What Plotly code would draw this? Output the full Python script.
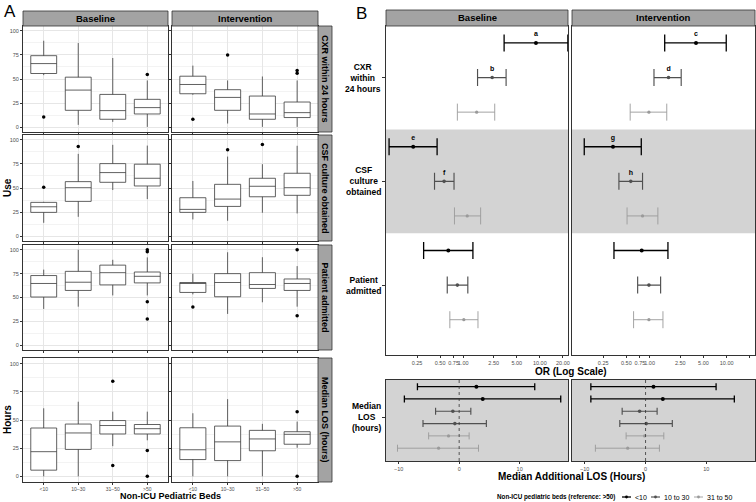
import math
import plotly.graph_objects as go

W, H = 756, 502
FONT = "Liberation Sans, Arial, sans-serif"

# ---------------- Panel A data (box statistics) ----------------
cats = ["<10", "10–30", "31–50", ">50"]
periods = ["Baseline", "Intervention"]
outcomes_a = ["CXR within 24 hours", "CSF culture obtained", "Patient admitted", "Median LOS (hours)"]

cxr_base = dict(q1=[55.7, 17.5, 8.2, 13.7], med=[66, 38.5, 17.2, 20.3], q3=[74.2, 51.9, 34, 28.9],
                lo=[54, 2.4, 5.5, 0.3], hi=[89.7, 87.3, 71.8, 48.5])
cxr_base_out_x = ["<10", ">50"]
cxr_base_out_y = [10.6, 54.6]

cxr_int = dict(q1=[34.7, 17.5, 8.2, 10], med=[44.3, 30.9, 13.7, 15.1], q3=[52.9, 38.9, 32.3, 26.1],
               lo=[33.7, 3.8, 0.3, 0.3], hi=[63.9, 48.5, 52.6, 48.5])
cxr_int_out_x = ["<10", "10–30", ">50", ">50"]
cxr_int_out_y = [8.2, 74.9, 58.8, 56]

csf_base = dict(q1=[24.7, 36.1, 55.9, 52.1], med=[30.5, 50.3, 66, 60.1], q3=[35.1, 56.6, 75.3, 74.7],
                lo=[13.9, 20.1, 47.9, 38.5], hi=[35.6, 85.4, 94.8, 94])
csf_base_out_x = ["<10", "10–30"]
csf_base_out_y = [50.7, 93]

csf_int = dict(q1=[24.7, 30.9, 40.9, 42.4], med=[27.8, 38.5, 51.8, 50.3], q3=[39.9, 53.8, 60.1, 65.3],
               lo=[17.4, 16, 24.3, 23.6], hi=[57.3, 82.6, 74.7, 93.8])
csf_int_out_x = ["10–30", "31–50"]
csf_int_out_y = [89.6, 95.1]

adm_base = dict(q1=[50.5, 57.4, 63.2, 65.3], med=[64.7, 66, 76, 72.2], q3=[73, 77.4, 83.9, 76.7],
                lo=[38, 40.4, 52.2, 52.2], hi=[79.2, 100, 89.5, 92])
adm_base_out_x = [">50", ">50", ">50", ">50"]
adm_base_out_y = [98, 100, 45.6, 27.4]

adm_int = dict(q1=[55.3, 50.8, 59.5, 57.4], med=[64.7, 65.7, 63.6, 64.7], q3=[65.7, 75, 76, 69.4],
               lo=[53.3, 32.8, 45, 40.4], hi=[75, 97.4, 92.2, 82.9])
adm_int_out_x = ["<10", ">50", ">50"]
adm_int_out_y = [40.1, 30.8, 100]

los_base = dict(q1=[5.5, 23.9, 37.6, 37.6], med=[21.9, 38.5, 45.1, 42.3], q3=[42.9, 46.4, 49.5, 46],
                lo=[0, 0, 26.8, 32], hi=[60.4, 66.2, 57.4, 57.4])
los_base_out_x = ["31–50", "31–50", ">50", ">50"]
los_base_out_y = [84.3, 9.6, 23, 0]

los_int = dict(q1=[14.9, 14, 22.7, 28.5], med=[23.6, 30.6, 33.2, 37.3], q3=[43.1, 44.6, 40.8, 39.6],
               lo=[0, 0, 0, 25.4], hi=[56, 68.5, 46.6, 48.6])
los_int_out_x = [">50", ">50"]
los_int_out_y = [57.4, 0]

# ---------------- Panel B data ----------------
levels = ["<10", "10 to 30", "31 to 50"]
or_outcomes = ["CXR<br>within<br>24 hours", "CSF<br>culture<br>obtained", "Patient<br>admitted"]
# order: outcome x level (CXR <10, CXR 10-30, CXR 31-50, CSF ..., Admitted ...)
or_base = [8.9, 2.39, 1.50, 0.223, 0.564, 1.13, 0.64, 0.84, 1.02]
or_base_lo = [3.42, 1.54, 0.84, 0.108, 0.423, 0.77, 0.305, 0.62, 0.67]
or_base_hi = [23.2, 3.63, 2.58, 0.457, 0.76, 1.69, 1.34, 1.15, 1.56]
or_base_letters = ["a", "b", "", "e", "f", "", "", "", ""]

or_int = [4.0, 1.76, 0.98, 0.335, 0.57, 0.81, 0.79, 0.98, 0.98]
or_int_lo = [1.57, 1.14, 0.56, 0.142, 0.40, 0.51, 0.345, 0.70, 0.62]
or_int_hi = [9.87, 2.57, 1.67, 0.78, 0.81, 1.28, 1.73, 1.39, 1.49]
or_int_letters = ["c", "d", "", "g", "h", "", "", "", ""]

or_ticks = [0.25, 0.50, 0.75, 1.00, 2.50, 5.00, 10.00, 20.00]

los_levels = ["<10", "<10", "10 to 30", "10 to 30", "31 to 50", "31 to 50"]
los_add_base = [2.85, 3.9, -1.04, -0.71, -1.76, -3.4]
los_add_base_lo = [-6.9, -9.06, -3.9, -5.98, -5.05, -10.2]
los_add_base_hi = [12.5, 16.8, 1.93, 4.5, 1.65, 3.2]
los_add_int = [1.3, 2.84, -0.98, 0.11, -0.16, -2.94]
los_add_int_lo = [-9.0, -9.0, -3.85, -4.24, -3.2, -8.25]
los_add_int_hi = [11.6, 14.6, 1.9, 4.4, 3.0, 2.28]

legend_title = "Non-ICU pediatric beds (reference: >50)"

# ---------------- styles ----------------
lvl_color = {"<10": "#000000", "10 to 30": "#505050", "31 to 50": "#9a9a9a"}
lvl_width = {"<10": 1.3, "10 to 30": 1.15, "31 to 50": 0.9}
lvl_msize = {"<10": 4, "10 to 30": 3.6, "31 to 50": 3.2}
STRIP_FILL = "#a3a3a3"
BORDER = "#333333"


def dx(l, r):
    return [l / W, r / W]


def dy(t, b):
    return [1 - b / H, 1 - t / H]


def px(x):
    return x / W


def py(y):
    return 1 - y / H


def anno(x, y, text, size, **kw):
    d = dict(xref="paper", yref="paper", x=px(x), y=py(y), text=text, showarrow=False,
             xanchor="center", yanchor="middle", font=dict(size=size, color="black", family=FONT))
    d.update(kw)
    return d


fig = go.Figure()
layout = {}
shapes = []
annos = []

row_px = [(26, 132), (135, 241), (245, 350), (358, 482)]
col_px = [(23, 168), (172, 318)]

panels = [
    [(cxr_base, cxr_base_out_x, cxr_base_out_y), (cxr_int, cxr_int_out_x, cxr_int_out_y)],
    [(csf_base, csf_base_out_x, csf_base_out_y), (csf_int, csf_int_out_x, csf_int_out_y)],
    [(adm_base, adm_base_out_x, adm_base_out_y), (adm_int, adm_int_out_x, adm_int_out_y)],
    [(los_base, los_base_out_x, los_base_out_y), (los_int, los_int_out_x, los_int_out_y)],
]


def ax_name(k, axis):
    return f"{axis}axis" if k == 1 else f"{axis}axis{k}"


def ref(k, axis):
    return axis if k == 1 else f"{axis}{k}"


for r in range(4):
    for c in range(2):
        k = r * 2 + c + 1
        stats, ox, oy = panels[r][c]
        fig.add_trace(go.Box(
            x=cats, q1=stats["q1"], median=stats["med"], q3=stats["q3"],
            lowerfence=stats["lo"], upperfence=stats["hi"],
            xaxis=ref(k, "x"), yaxis=ref(k, "y"),
            fillcolor="white", line=dict(color="#3a3a3a", width=0.8),
            boxpoints=False, width=0.75, whiskerwidth=0, showlegend=False, hoverinfo="skip"))
        fig.add_trace(go.Scatter(
            x=ox, y=oy, mode="markers", xaxis=ref(k, "x"), yaxis=ref(k, "y"),
            marker=dict(color="black", size=3.5), showlegend=False, hoverinfo="skip"))
        layout[ax_name(k, "x")] = dict(
            domain=dx(*col_px[c]), anchor=ref(k, "y"), type="category",
            categoryorder="array", categoryarray=cats, range=[-0.6, 3.6],
            showgrid=True, gridcolor="#e6e6e6", gridwidth=0.8,
            showline=True, mirror=True, linecolor=BORDER, linewidth=1,
            ticks="outside", ticklen=1.5, tickcolor="#333", tickwidth=0.6,
            showticklabels=(r == 3), tickfont=dict(size=5, color="#4d4d4d"), tickangle=0,
            zeroline=False, fixedrange=True)
        layout[ax_name(k, "y")] = dict(
            domain=dy(*row_px[r]), anchor=ref(k, "x"), range=[-5, 105],
            tickvals=[0, 25, 50, 75, 100], showgrid=True, gridcolor="#e6e6e6", gridwidth=0.8,
            minor=dict(dtick=12.5, tick0=0, showgrid=True, gridcolor="#f3f3f3", gridwidth=0.5),
            showline=True, mirror=True, linecolor=BORDER, linewidth=1,
            ticks="outside", ticklen=2, tickcolor="#333", tickwidth=0.6,
            showticklabels=(c == 0), tickfont=dict(size=5.5, color="#4d4d4d"),
            zeroline=False, fixedrange=True)
    # right strip
    t, b = row_px[r]
    shapes.append(dict(type="rect", xref="paper", yref="paper", x0=px(318), x1=px(332),
                       y0=py(b), y1=py(t), fillcolor=STRIP_FILL,
                       line=dict(color=BORDER, width=0.8)))
    annos.append(anno(325, (t + b) / 2, f"<b>{outcomes_a[r]}</b>", 9, textangle=90))

# top strips for A
for c in range(2):
    l, rr = col_px[c]
    shapes.append(dict(type="rect", xref="paper", yref="paper", x0=px(l), x1=px(rr),
                       y0=py(26), y1=py(11), fillcolor=STRIP_FILL,
                       line=dict(color=BORDER, width=0.8)))
    annos.append(anno((l + rr) / 2, 18.5, f"<b>{periods[c]}</b>", 9.5))

# ---------------- Panel B ----------------
bcol_px = [(386, 568), (572, 755)]
or_sets = [(or_base, or_base_lo, or_base_hi, or_base_letters),
           (or_int, or_int_lo, or_int_hi, or_int_letters)]
los_sets = [(los_add_base, los_add_base_lo, los_add_base_hi),
            (los_add_int, los_add_int_lo, los_add_int_hi)]

for c in range(2):
    k = 9 + c
    vals, lo, hi, letters = or_sets[c]
    for j, lvl in enumerate(levels):
        idx = list(range(j, len(vals), 3))
        fig.add_trace(go.Scatter(
            x=[vals[i] for i in idx], y=idx, mode="markers", xaxis=ref(k, "x"), yaxis=ref(k, "y"),
            marker=dict(color=lvl_color[lvl], size=lvl_msize[lvl]),
            error_x=dict(type="data", symmetric=False,
                         array=[hi[i] - vals[i] for i in idx],
                         arrayminus=[vals[i] - lo[i] for i in idx],
                         color=lvl_color[lvl], thickness=lvl_width[lvl], width=8.5),
            showlegend=False, hoverinfo="skip"))
    # significance letters, offset above the points by an invisible marker
    fig.add_trace(go.Scatter(
        x=vals, y=list(range(len(vals))), mode="markers+text", xaxis=ref(k, "x"), yaxis=ref(k, "y"),
        marker=dict(size=6, opacity=0, color="black"),
        text=[f"<b>{t}</b>" if t else "" for t in letters], textposition="top center",
        textfont=dict(size=7, color="#000000", family=FONT), showlegend=False, hoverinfo="skip"))
    layout[ax_name(k, "x")] = dict(
        domain=dx(*bcol_px[c]), anchor=ref(k, "y"), type="log",
        range=[math.log10(0.0985), math.log10(23.3)],
        tickvals=or_ticks, ticktext=[f"{v:.2f}" for v in or_ticks], tickangle=0,
        showgrid=False, zeroline=False, showline=True, mirror=True,
        linecolor=BORDER, linewidth=1, ticks="outside", ticklen=2, tickcolor="#333", tickwidth=0.6,
        tickfont=dict(size=5.5, color="#4d4d4d"), fixedrange=True)
    layout[ax_name(k, "y")] = dict(
        domain=dy(26, 355), anchor=ref(k, "x"), range=[9.02, -0.49],
        tickvals=[1, 4, 7], showticklabels=False, ticks="outside" if c == 0 else "",
        ticklen=3, tickcolor="#333", tickwidth=0.6,
        showgrid=False, zeroline=False, showline=True, mirror=True,
        linecolor=BORDER, linewidth=1, fixedrange=True)
    shapes.append(dict(type="rect", xref=f"x{k} domain", yref=f"y{k}", x0=0, x1=1, y0=2.5, y1=5.5,
                       fillcolor="#d3d3d3", line=dict(width=0), layer="below"))
    shapes.append(dict(type="line", xref=f"x{k}", yref=f"y{k} domain", x0=0, x1=0, y0=0, y1=1,
                       line=dict(color="#333", width=0.8, dash="dot")))
    l, rr = bcol_px[c]
    shapes.append(dict(type="rect", xref="paper", yref="paper", x0=px(l), x1=px(rr),
                       y0=py(26), y1=py(10), fillcolor=STRIP_FILL,
                       line=dict(color=BORDER, width=0.8)))
    annos.append(anno((l + rr) / 2, 18, f"<b>{periods[c]}</b>", 9.5))

    # LOS panel
    k2 = 11 + c
    vals, lo, hi = los_sets[c]
    for lvl in levels:
        idx = [i for i, v in enumerate(los_levels) if v == lvl]
        fig.add_trace(go.Scatter(
            x=[vals[i] for i in idx], y=idx, mode="markers", xaxis=ref(k2, "x"), yaxis=ref(k2, "y"),
            marker=dict(color=lvl_color[lvl], size=lvl_msize[lvl]),
            error_x=dict(type="data", symmetric=False,
                         array=[hi[i] - vals[i] for i in idx],
                         arrayminus=[vals[i] - lo[i] for i in idx],
                         color=lvl_color[lvl], thickness=lvl_width[lvl], width=3.5),
            showlegend=False, hoverinfo="skip"))
    layout[ax_name(k2, "x")] = dict(
        domain=dx(*bcol_px[c]), anchor=ref(k2, "y"), range=[-12.1, 18],
        tickvals=[-10, 0, 10], tickangle=0, showgrid=False, zeroline=False, showline=True, mirror=True,
        linecolor=BORDER, linewidth=1, ticks="outside", ticklen=2, tickcolor="#333", tickwidth=0.6,
        tickfont=dict(size=5.5, color="#4d4d4d"), fixedrange=True)
    layout[ax_name(k2, "y")] = dict(
        domain=dy(380, 461), anchor=ref(k2, "x"), range=[6.04, -0.54],
        tickvals=[2.5], showticklabels=False, ticks="outside" if c == 0 else "",
        ticklen=3, tickcolor="#333", tickwidth=0.6,
        showgrid=False, zeroline=False, showline=True, mirror=True,
        linecolor=BORDER, linewidth=1, fixedrange=True)
    shapes.append(dict(type="rect", xref=f"x{k2} domain", yref=f"y{k2} domain", x0=0, x1=1, y0=0, y1=1,
                       fillcolor="#d3d3d3", line=dict(width=0), layer="below"))
    shapes.append(dict(type="line", xref=f"x{k2}", yref=f"y{k2} domain", x0=0, x1=0, y0=0, y1=1,
                       line=dict(color="#333", width=0.8, dash="dot")))

# row labels for B
for i, lab in enumerate(or_outcomes):
    annos.append(dict(xref="paper", yref="y9", x=px(383), y=i * 3 + 1, xanchor="right", yanchor="middle",
                      text=f"<b>{lab}</b>", align="center", showarrow=False,
                      font=dict(size=8.5, color="black", family=FONT)))
annos.append(dict(xref="paper", yref="y11", x=px(383), y=2.5, xanchor="right", yanchor="middle",
                  text="<b>Median<br>LOS<br>(hours)</b>", align="center", showarrow=False,
                  font=dict(size=8.5, color="black", family=FONT)))

# manual legend (kept inside the page so it does not push the margins)
annos.append(anno(617, 497, f"<b>{legend_title}</b>", 6.3, xanchor="right"))
leg_sym_x = [622, 651, 694]
for lvl, sx in zip(levels, leg_sym_x):
    shapes.append(dict(type="line", xref="paper", yref="paper", x0=px(sx), x1=px(sx + 9),
                       y0=py(497), y1=py(497), line=dict(color=lvl_color[lvl], width=lvl_width[lvl])))
    shapes.append(dict(type="circle", xref="paper", yref="paper", x0=px(sx + 3.1), x1=px(sx + 5.9),
                       y0=py(498.4), y1=py(495.6), fillcolor=lvl_color[lvl],
                       line=dict(color=lvl_color[lvl], width=0)))
    annos.append(anno(sx + 11, 497, lvl.replace("<", "&lt;"), 7, xanchor="left"))

# titles and panel letters
annos += [
    anno(2, 0, "A", 17, xanchor="left", yanchor="top"),
    anno(354, 2, "B", 17, xanchor="left", yanchor="top"),
    anno(7, 188, "<b>Use</b>", 10, textangle=-90),
    anno(7, 420, "<b>Hours</b>", 10, textangle=-90),
    anno(170, 502.5, "<b>Non-ICU Pediatric Beds</b>", 9, yanchor="bottom"),
    anno(571, 371, "<b>OR (Log Scale)</b>", 10),
    anno(571, 476, "<b>Median Additional LOS (Hours)</b>", 10),
]

fig.update_layout(
    width=W, height=H, margin=dict(l=0, r=0, t=0, b=0, autoexpand=False),
    paper_bgcolor="white", plot_bgcolor="white",
    font=dict(family=FONT, color="black"),
    shapes=shapes, annotations=annos,
    showlegend=False,
    **layout,
)

fig.write_html("out.html", config={"displayModeBar": False},
               post_script="document.body.style.margin='0';document.body.style.padding='0';")
